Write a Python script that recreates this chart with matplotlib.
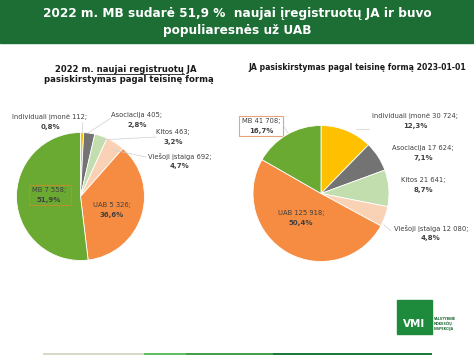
import matplotlib.pyplot as plt
from matplotlib.font_manager import FontProperties
from matplotlib.patches import Rectangle

# data
forms = ["Individuali įmonė", "Asociacija", "Kitos", "Viešoji įstaiga", "UAB", "MB"]
counts_2022 = ["112", "405", "463", "692", "5 326", "7 558"]
shares_2022 = [0.8, 2.8, 3.2, 4.7, 36.6, 51.9]
counts_2023 = ["30 724", "17 624", "21 641", "12 080", "125 918", "41 708"]
shares_2023 = [12.3, 7.1, 8.7, 4.8, 50.4, 16.7]
colors = ["#FFC000", "#737373", "#C3DEAE", "#F9D2B6", "#F58C41", "#6BAA32"]

title = "2022 m. MB sudarė 51,9 %  naujai įregistruotų JA ir buvo\npopuliaresnės už UAB"
sub_left_1 = "2022 m. naujai registruotų JA"
sub_left_2 = "pasiskirstymas pagal teisinę formą"
sub_right = "JA pasiskirstymas pagal teisinę formą 2023-01-01"

W, H = 474, 355
fig = plt.figure(figsize=(W / 100, H / 100), dpi=100)
ax = fig.add_axes([0, 0, 1, 1])


def Y(y):
    return H - y


txt = "#404040"

# header
ax.add_patch(Rectangle((0, Y(43)), W, 43, color="#1D6E34", zorder=0))
ax.text(W / 2, Y(22), title, ha="center", va="center", color="white",
        fontsize=8.7, fontweight="bold", linespacing=1.45)

# subtitles
sub_fp = FontProperties(size=6.1, weight="bold")
ax.text(126, Y(69), sub_left_1, ha="center", va="center",
        fontproperties=sub_fp, color="#1a1a1a")
ax.text(129, Y(80), sub_left_2, ha="center", va="center",
        fontproperties=sub_fp, color="#1a1a1a")
ax.text(357, Y(67), sub_right, ha="center", va="center", fontsize=5.6,
        fontweight="bold", color="#1a1a1a")

# underline "naujai registruotų"
r = fig.canvas.get_renderer()
full_w = r.get_text_width_height_descent(sub_left_1, sub_fp, ismath=False)[0]
pre_w = r.get_text_width_height_descent("2022 m. ", sub_fp, ismath=False)[0]
mid_w = r.get_text_width_height_descent("2022 m. naujai registruotų", sub_fp,
                                        ismath=False)[0]
x_start = 126 - full_w / 2
ax.plot([x_start + pre_w, x_start + mid_w], [Y(73.5), Y(73.5)],
        color="#1a1a1a", lw=0.6)

wp = dict(edgecolor="white", linewidth=0.6)
ax.pie(shares_2022, colors=colors, startangle=90, counterclock=False,
       center=(80.5, Y(196.5)), radius=64, wedgeprops=wp)
ax.pie(shares_2023, colors=colors, startangle=90, counterclock=False,
       center=(321, Y(193.5)), radius=68, wedgeprops=wp)


def label(x, y, name, count, share):
    ax.text(x, Y(y - 5), f"{name} {count};", ha="center", va="center",
            fontsize=4.9, color=txt)
    ax.text(x, Y(y + 5), f"{share:.1f}%".replace(".", ","), ha="center",
            va="center", fontsize=5.0, fontweight="bold", color=txt)


def leader(pts):
    ax.plot([p[0] for p in pts], [Y(p[1]) for p in pts], color="#CFCFCF",
            lw=0.5)


# left pie labels
pos_left = [(50, 122), (137, 120), (173, 137), (180, 161), (112, 210), (49, 195)]
for i, (x, y) in enumerate(pos_left):
    label(x, y, forms[i], counts_2022[i], shares_2022[i])
ax.add_patch(Rectangle((29, Y(205)), 42, 20, fill=False, edgecolor="#B8902E",
                       lw=0.8))
leader([(82, 122), (82, 133)])
leader([(111, 118), (88, 133)])
leader([(156, 137), (100, 140)])
leader([(146, 157), (113, 150)])

# right pie labels
pos_right = [(415, 121), (423, 153), (423, 185), (431, 233), (301, 218), (261, 126)]
for i, (x, y) in enumerate(pos_right):
    label(x, y, forms[i], counts_2023[i], shares_2023[i])
ax.add_patch(Rectangle((239, Y(136)), 44, 20, facecolor="white",
                       edgecolor="#E9A27E", lw=0.8, zorder=0.5))
leader([(284, 127), (288, 133)])
leader([(356, 129), (369, 129)])
leader([(384, 225), (391, 231)])

# logo
ax.add_patch(Rectangle((397, Y(334)), 35, 34, color="#1E8A3C"))
ax.text(414.5, Y(324), "VMI", ha="center", va="center", color="white",
        fontsize=7.5, fontweight="bold")
ax.text(434, Y(324), "VALSTYBINĖ\nMOKESČIŲ\nINSPEKCIJA", ha="left",
        va="center", fontsize=2.3, color="#1E6B35", fontweight="bold",
        linespacing=1.1)

# bottom stripe
for x0, x1, c in [(43, 144, "#D6D8C8"), (144, 186, "#63BE5F"),
                  (186, 273, "#46A04A"), (273, 432, "#1C7A3B")]:
    ax.add_patch(Rectangle((x0, 0), x1 - x0, Y(352.5), color=c, lw=0))

ax.set_xlim(0, W)
ax.set_ylim(0, H)
ax.set_aspect("auto")
ax.axis("off")
fig.savefig("out.png", dpi=100)
